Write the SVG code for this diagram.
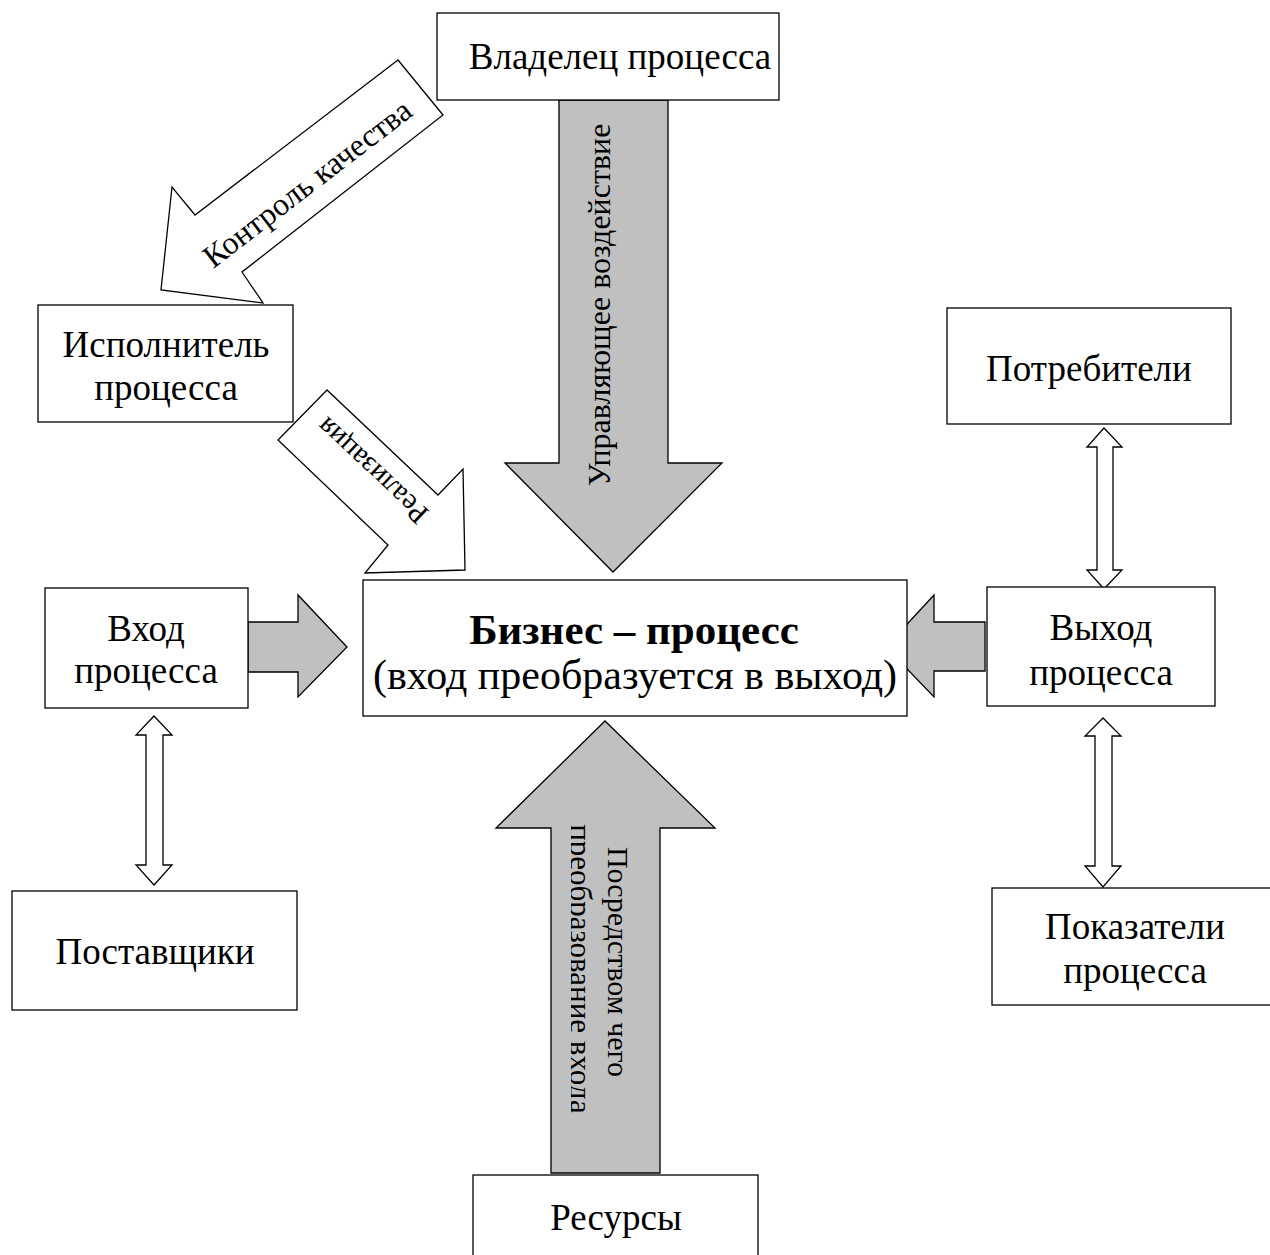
<svg xmlns="http://www.w3.org/2000/svg" width="1270" height="1255" viewBox="0 0 1270 1255">
<style>
.box{fill:#fff;stroke:#000;stroke-width:1.3}
.ga{fill:#c0c0c0;stroke:#000;stroke-width:1.3;stroke-linejoin:miter}
.wa{fill:#fff;stroke:#000;stroke-width:1.3}
text{font-family:"Liberation Serif","Times New Roman",serif;font-size:37px;fill:#000;text-anchor:middle}
.b{font-weight:bold;font-size:43px}
.big{font-size:42px}
.rot{font-size:32px}
</style>
<defs>
<clipPath id="clipIn"><rect x="571" y="780" width="100" height="380"/></clipPath>
</defs>
<rect width="1270" height="1255" fill="#fff"/>

<g id="connectors">
<polygon class="ga" points="559,100 668,100 668,463 722,463 613,572 505,463 559,463"/>
<polygon class="ga" points="551,1173 660,1173 660,828 715,828 605,721 496,828 551,828"/>
<polygon class="ga" points="248,622 298,622 298,595 347,647 298,697 298,672 248,672"/>
<polygon class="ga" points="985,622 934,622 934,595 886,647 934,697 934,671 985,671"/>
<polygon class="wa" points="398,60 195,215 172,187 161,290 263,303 242,272 443,115"/>
<polygon class="wa" points="327,390 278,440 388,545 365,573 465,570 463,469 438,495"/>
<polygon class="wa" points="1104,428 1087,447 1097,447 1097,570 1087,570 1104,589 1122,570 1113,570 1113,447 1122,447"/>
<polygon class="wa" points="154,716 136,735 146,735 146,865 136,865 154,885 172,865 163,865 163,735 172,735"/>
<polygon class="wa" points="1103,718 1085,736 1095,736 1095,866 1085,866 1103,887 1121,866 1112,866 1112,736 1121,736"/>
<text class="rot" transform="translate(610,305) rotate(-90)">Управляющее воздействие</text>
<text transform="translate(608,962) rotate(90)" style="font-size:30px">Посредством чего</text>
<g clip-path="url(#clipIn)"><text transform="translate(570,969) rotate(90)" style="font-size:31px">преобразование входа</text></g>
<text transform="translate(307,183) rotate(-37.5)" dominant-baseline="central" style="font-size:32px">Контроль качества</text>
<text transform="translate(372,471) rotate(223)" dominant-baseline="central" style="font-size:29px">Реализация</text>
</g>

<g id="owner"><rect class="box" x="437" y="13" width="342" height="87"/><text x="620" y="69">Владелец процесса</text></g>
<g id="executor"><rect class="box" x="38" y="305" width="255" height="117"/><text x="166" y="357">Исполнитель</text><text x="166" y="400">процесса</text></g>
<g id="consumers"><rect class="box" x="947" y="308" width="284" height="116"/><text x="1089" y="381">Потребители</text></g>
<g id="input"><rect class="box" x="45" y="588" width="203" height="120"/><text x="146" y="641">Вход</text><text x="146" y="683">процесса</text></g>
<g id="process"><rect class="box" x="363" y="580" width="544" height="136"/><text class="b" x="634" y="644">Бизнес – процесс</text><text class="big" x="635" y="689">(вход преобразуется в выход)</text></g>
<g id="output"><rect class="box" x="987" y="587" width="228" height="119"/><text x="1101" y="640">Выход</text><text x="1101" y="685">процесса</text></g>
<g id="suppliers"><rect class="box" x="12" y="891" width="285" height="119"/><text x="155" y="964">Поставщики</text></g>
<g id="indicators"><rect class="box" x="992" y="888" width="290" height="117"/><text x="1135" y="939">Показатели</text><text x="1135" y="983">процесса</text></g>
<g id="resources"><rect class="box" x="473" y="1175" width="285" height="90"/><text x="616" y="1230">Ресурсы</text></g>
</svg>
